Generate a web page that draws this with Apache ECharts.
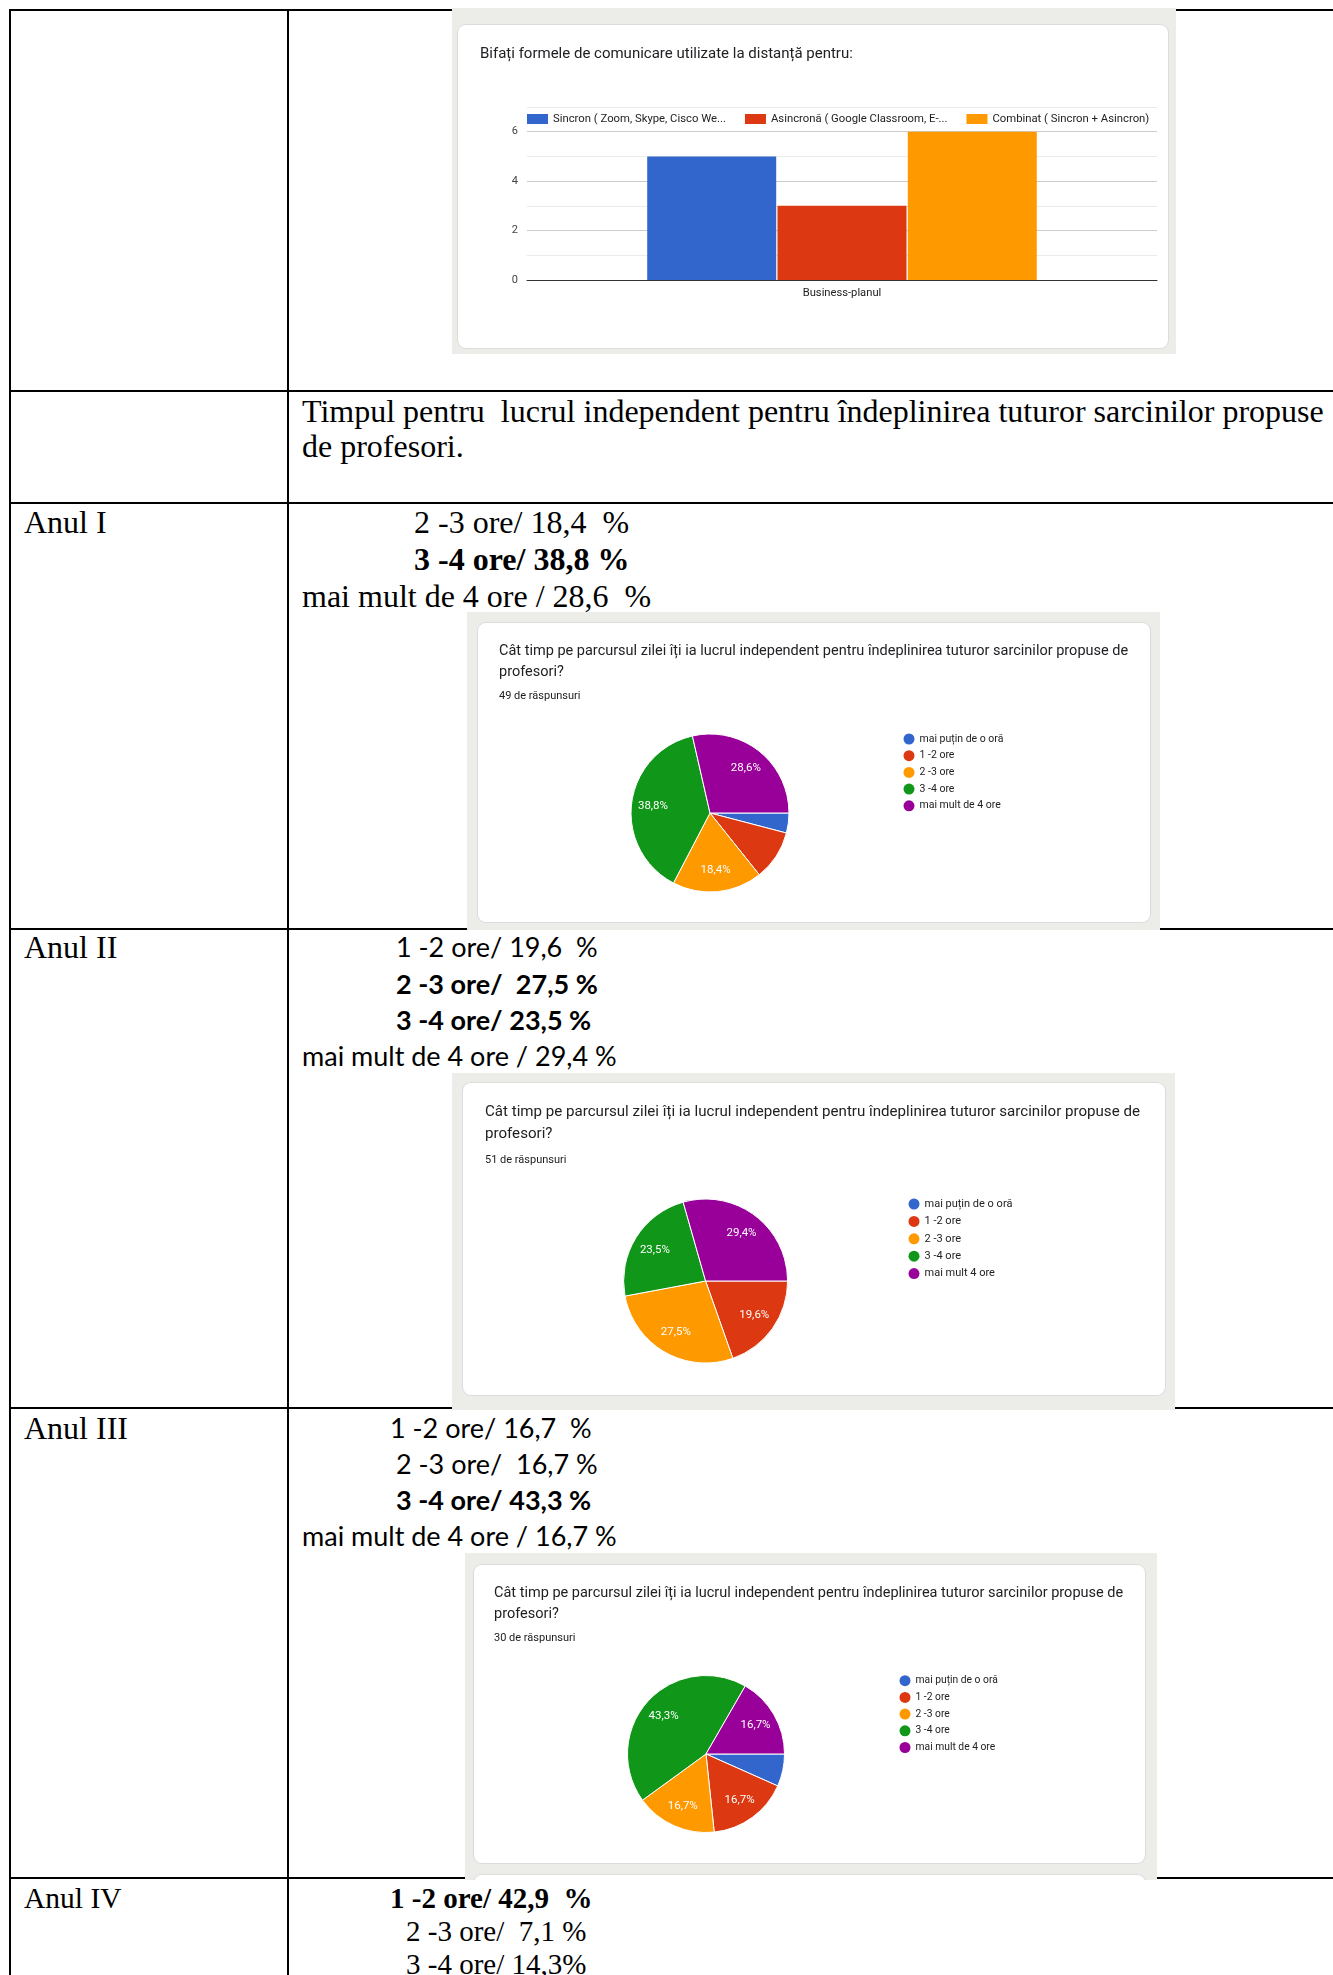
<!DOCTYPE html>
<html><head><meta charset="utf-8">
<script src="https://cdn.jsdelivr.net/npm/echarts@6/dist/echarts.min.js"></script>
<style>
html,body{margin:0;padding:0;background:#fff;}
#page{position:relative;width:1333px;height:1975px;overflow:hidden;background:#fff;}
.ln{position:absolute;background:#000;z-index:1;}
.gbox{position:absolute;background:#ecece9;z-index:2;overflow:hidden;}
.card{position:absolute;background:#fff;border-radius:8px;box-shadow:0 0 0 1px #dcdcdc;}
.chart{position:absolute;left:0;top:0;}
.tx{position:absolute;white-space:pre;color:#000;z-index:1;}
.serif{font-family:"Liberation Serif","Times New Roman",serif;}
.sans{font-family:Lato,"Liberation Sans",sans-serif;}
</style></head>
<body><div id="page"></div>
<script>
// ---------------- DATA ----------------
const barTitle = 'Bifați formele de comunicare utilizate la distanță pentru:';
const barCategories = ['Business-planul'];
const barSeriesNames = ['Sincron ( Zoom, Skype, Cisco We...', 'Asincronă ( Google Classroom, E-...', 'Combinat ( Sincron + Asincron)'];
const barSincron = [5];
const barAsincron = [3];
const barCombinat = [6];
const barYTickLabels = [0, 2, 4, 6];

const pieTitle = 'Cât timp pe parcursul zilei îți ia lucrul independent pentru îndeplinirea tuturor sarcinilor propuse de\nprofesori?';
const pieCategories = ['mai puțin de o oră', '1 -2 ore', '2 -3 ore', '3 -4 ore', 'mai mult de 4 ore'];
const pieCategoriesAnulII = ['mai puțin de o oră', '1 -2 ore', '2 -3 ore', '3 -4 ore', 'mai mult 4 ore'];
const anulIResponses = [2, 5, 9, 19, 14];
const anulIIResponses = [0, 10, 14, 12, 15];
const anulIIIResponses = [2, 5, 5, 13, 5];
const responseCountLabels = ['49 de răspunsuri', '51 de răspunsuri', '30 de răspunsuri'];
const palette = ['#3366cc', '#dc3912', '#ff9900', '#109618', '#990099'];

const rowLabels = ['Anul I', 'Anul II', 'Anul III', 'Anul IV'];
const sectionHeading = ['Timpul pentru  lucrul independent pentru îndeplinirea tuturor sarcinilor propuse', 'de profesori.'];
const anulILines = ['2 -3 ore/ 18,4  %', '3 -4 ore/ 38,8 %', 'mai mult de 4 ore / 28,6  %'];
const anulIILines = ['1 -2 ore/ 19,6  %', '2 -3 ore/  27,5 %', '3 -4 ore/ 23,5 %', 'mai mult de 4 ore / 29,4 %'];
const anulIIILines = ['1 -2 ore/ 16,7  %', '2 -3 ore/  16,7 %', '3 -4 ore/ 43,3 %', 'mai mult de 4 ore / 16,7 %'];
const anulIVLines = ['1 -2 ore/ 42,9  %', '2 -3 ore/  7,1 %', '3 -4 ore/ 14,3%'];

// ---------------- LAYOUT ----------------
const page = document.getElementById('page');
function el(cls, css, parent) {
  const d = document.createElement('div');
  d.className = cls;
  Object.assign(d.style, css);
  (parent || page).appendChild(d);
  return d;
}
// table rules
const hRules = [10, 391, 503, 929, 1408, 1878];
hRules.forEach(y => el('ln', {left: '9px', top: (y - 1) + 'px', width: '1330px', height: '2px'}));
[10, 288].forEach(x => el('ln', {left: (x - 1) + 'px', top: '9px', width: '2px', height: '1970px'}));

// text
function txt(text, x, cy, size, lh, font, bold) {
  const d = el('tx ' + font, {left: x + 'px', top: (cy - lh / 2) + 'px', fontSize: size + 'px', lineHeight: lh + 'px', fontWeight: bold ? 'bold' : 'normal'});
  d.textContent = text;
}
txt(sectionHeading[0], 302, 411, 32, 37, 'serif');
txt(sectionHeading[1], 302, 446, 32, 37, 'serif');
txt(rowLabels[0], 24, 522, 32, 37, 'serif');
txt(rowLabels[1], 24, 947, 32, 37, 'serif');
txt(rowLabels[2], 24, 1428, 32, 37, 'serif');
txt(rowLabels[3], 24, 1898, 29.5, 34, 'serif');
[[414, 522, false], [414, 559, true], [302, 596, false]].forEach((p, i) => txt(anulILines[i], p[0], p[1], 32, 37, 'serif', p[2]));
[[396, 947, false], [396, 984, true], [396, 1020, true], [302, 1056, false]].forEach((p, i) => txt(anulIILines[i], p[0], p[1], 27, 36, 'sans', p[2]));
[[390, 1428, false], [396, 1464, false], [396, 1500, true], [302, 1536, false]].forEach((p, i) => txt(anulIIILines[i], p[0], p[1], 27, 36, 'sans', p[2]));
[[390, 1898, true], [406, 1931, false], [406, 1964, false]].forEach((p, i) => txt(anulIVLines[i], p[0], p[1], 29, 33, 'serif', p[2]));

// chart boxes
function chartBox(g, c, extra) {
  const gb = el('gbox', {left: g[0] + 'px', top: g[1] + 'px', width: g[2] + 'px', height: g[3] + 'px'});
  if (extra) el('card', {left: (c[0] - g[0]) + 'px', top: (extra - g[1]) + 'px', width: c[2] + 'px', height: '40px'}, gb);
  const card = el('card', {left: (c[0] - g[0]) + 'px', top: (c[1] - g[1]) + 'px', width: c[2] + 'px', height: c[3] + 'px'}, gb);
  const ch = el('chart', {width: c[2] + 'px', height: c[3] + 'px'}, card);
  return echarts.init(ch, null, {renderer: 'canvas'});
}

const FONT = 'Roboto';

// ---------- bar chart ----------
const bar = chartBox([452, 8, 724, 346], [458, 25, 710, 323]);
bar.setOption({
  animation: false,
  color: palette.slice(0, 3),
  title: {text: barTitle, left: 22, top: 20, padding: 0,
    textStyle: {fontFamily: FONT, fontSize: 15, lineHeight: 18, color: '#202124', fontWeight: 'normal'}},
  legend: {left: 69, top: 87.5, padding: 0, itemGap: 19, itemWidth: 21, itemHeight: 10, icon: 'rect',
    textStyle: {fontFamily: FONT, fontSize: 11.3, lineHeight: 13, color: '#222'},
    data: barSeriesNames},
  grid: {left: 69, right: 11, top: 82, bottom: 68},
  xAxis: {type: 'category', data: barCategories, axisTick: {show: false},
    axisLine: {lineStyle: {color: '#333', width: 1}},
    axisLabel: {fontFamily: FONT, fontSize: 11.2, color: '#222', margin: 8}},
  yAxis: {type: 'value', min: 0, max: 7, interval: 1,
    axisLine: {show: false}, axisTick: {show: false},
    axisLabel: {fontFamily: FONT, fontSize: 11, color: '#444', margin: 9,
      formatter: v => barYTickLabels.indexOf(v) >= 0 ? String(v) : ''},
    splitLine: {lineStyle: {color: ['#cccccc', '#ebebeb'], width: 1}}},
  series: [
    {type: 'bar', name: barSeriesNames[0], data: barSincron, barWidth: 129, barGap: '1%'},
    {type: 'bar', name: barSeriesNames[1], data: barAsincron, barWidth: 129, barGap: '1%'},
    {type: 'bar', name: barSeriesNames[2], data: barCombinat, barWidth: 129, barGap: '1%'}
  ]
});

// ---------- pie charts ----------
function pieOption(names, counts, subtitle, L) {
  const total = counts.reduce((a, b) => a + b, 0);
  const data = names.map((n, i) => ({name: n, value: counts[i]}));
  const fmt = p => {
    const pct = p.value / total * 100;
    return pct >= 12 ? pct.toFixed(1).replace('.', ',') + '%' : '';
  };
  return {
    animation: false,
    color: palette,
    title: [
      {text: pieTitle, left: L.tl, top: L.tt, padding: 0,
        textStyle: {fontFamily: FONT, fontSize: L.tfs, lineHeight: L.tlh, color: '#202124', fontWeight: 'normal'}},
      {text: subtitle, left: L.tl, top: L.st, padding: 0,
        textStyle: {fontFamily: FONT, fontSize: 11, lineHeight: 12, color: '#202124', fontWeight: 'normal'}}
    ],
    legend: {orient: 'vertical', left: L.ll, top: L.lt, padding: 0, itemGap: L.lg, icon: 'circle',
      itemWidth: 11, itemHeight: 11, data: names,
      itemStyle: {borderWidth: 0},
      textStyle: {fontFamily: FONT, fontSize: L.lfs, lineHeight: 12, color: '#222'}},
    series: [
      {type: 'pie', center: [L.cx, L.cy], radius: L.r, startAngle: 0, clockwise: true,
        data: data, label: {show: false}, labelLine: {show: false},
        itemStyle: {borderColor: '#fff', borderWidth: 1}, emphasis: {disabled: true}},
      {type: 'pie', center: [L.cx, L.cy], radius: L.r * 1.38, startAngle: 0, clockwise: true,
        silent: true, legendHoverLink: false, data: data,
        itemStyle: {color: 'rgba(0,0,0,0)', borderWidth: 0},
        label: {show: true, position: 'inside', formatter: fmt, color: '#fff', fontFamily: FONT,
          fontSize: 11.5, textBorderWidth: 0},
        labelLine: {show: false}, emphasis: {disabled: true}}
    ]
  };
}

const pie1 = chartBox([467, 612, 693, 318], [478, 623, 672, 299]);
pie1.setOption(pieOption(pieCategories, anulIResponses, responseCountLabels[0],
  {tl: 21, tt: 17.5, tfs: 14.5, tlh: 21, st: 67, cx: 232, cy: 190, r: 79, ll: 425.5, lt: 110, lg: 4.7, lfs: 10.5}));

const pie2 = chartBox([452, 1073, 723, 337], [463, 1083, 702, 312]);
pie2.setOption(pieOption(pieCategoriesAnulII, anulIIResponses, responseCountLabels[1],
  {tl: 22, tt: 18, tfs: 15.1, tlh: 22, st: 71, cx: 242.6, cy: 198, r: 82, ll: 445.5, lt: 115, lg: 5.4, lfs: 11}));

const pie3 = chartBox([465, 1553, 692, 327], [474, 1565, 671, 298], 1875);
pie3.setOption(pieOption(pieCategories, anulIIIResponses, responseCountLabels[2],
  {tl: 20, tt: 17.5, tfs: 14.5, tlh: 21, st: 67, cx: 232, cy: 189, r: 78.5, ll: 425.5, lt: 109.7, lg: 4.7, lfs: 10.3}));
</script>
</body></html>
